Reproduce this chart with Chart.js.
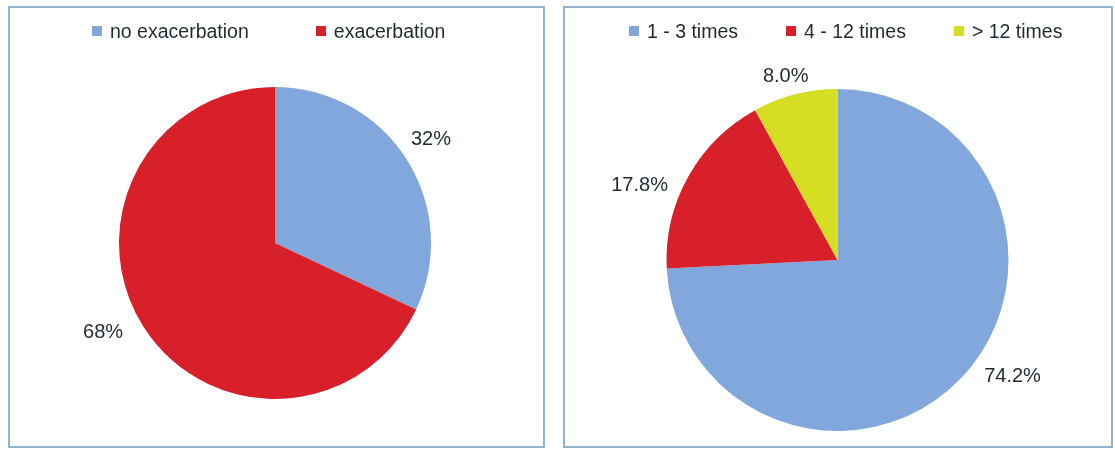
<!DOCTYPE html>
<html>
<head>
<meta charset="utf-8">
<script src="https://cdn.jsdelivr.net/npm/chart.js@4/dist/chart.umd.min.js"></script>
<style>
  html, body { margin: 0; padding: 0; background: #ffffff; }
  body { width: 1115px; height: 449px; position: relative; overflow: hidden; font-family: "Liberation Sans", Arial, sans-serif; }
  .panel { position: absolute; box-sizing: border-box; border: 2px solid #93b4cc; pointer-events: none; }
  canvas.c { position: absolute; }
  .legend { position: absolute; display: flex; align-items: center; height: 20px; color: #1f2a30; font-size: 19.5px; line-height: 20px; white-space: nowrap; }
  .legend .item { display: flex; align-items: center; }
  .legend .box { width: 10px; height: 10px; margin-right: 8px; }
</style>
</head>
<body>
<canvas id="left" class="c" width="537" height="442" style="left:8px;top:6px;"></canvas>
<canvas id="right" class="c" width="550" height="442" style="left:563px;top:6px;"></canvas>
<div class="panel" style="left:8px;top:6px;width:537px;height:442px;"></div>
<div class="panel" style="left:563px;top:6px;width:550px;height:442px;"></div>
<div id="legendLeft" class="legend" style="left:92px;top:21px;"></div>
<div id="legendRight" class="legend" style="left:629px;top:21px;"></div>
<script>
// ---- data ----
const leftCategories = ['no exacerbation', 'exacerbation'];
const leftValues = [32, 68];
const leftLabels = ['32%', '68%'];

const rightCategories = ['1 - 3 times', '4 - 12 times', '> 12 times'];
const rightValues = [74.2, 17.8, 8.0];
const rightLabels = ['74.2%', '17.8%', '8.0%'];

const leftColors = ['#82a7dc', '#d8202b'];
const rightColors = ['#82a7dc', '#d8202b', '#d5de22'];

// ---- html legends ----
function buildLegend(id, cats, colors, gap) {
  const el = document.getElementById(id);
  el.style.gap = gap + 'px';
  cats.forEach((c, i) => {
    const item = document.createElement('div');
    item.className = 'item';
    const box = document.createElement('span');
    box.className = 'box';
    box.style.background = colors[i];
    const t = document.createElement('span');
    t.textContent = c;
    item.appendChild(box);
    item.appendChild(t);
    el.appendChild(item);
  });
}
buildLegend('legendLeft', leftCategories, leftColors, 67);
buildLegend('legendRight', rightCategories, rightColors, 48);

// ---- outside labels plugin ----
const outsideLabels = {
  id: 'outsideLabels',
  afterDatasetsDraw(chart, args, opts) {
    const ctx = chart.ctx;
    const meta = chart.getDatasetMeta(0);
    const texts = opts.texts || [];
    const nudges = opts.nudges || [];
    ctx.save();
    ctx.font = '20px "Liberation Sans", Arial, sans-serif';
    ctx.fillStyle = '#1f2a30';
    ctx.textAlign = 'center';
    ctx.textBaseline = 'middle';
    const h = 20, g = opts.gap || 10;
    meta.data.forEach((arc, i) => {
      const p = arc.getProps(['x', 'y', 'startAngle', 'endAngle', 'outerRadius'], true);
      const mid = (p.startAngle + p.endAngle) / 2;
      const ux = Math.cos(mid), uy = Math.sin(mid);
      const w = ctx.measureText(texts[i]).width;
      const half = Math.abs(ux) * w / 2 + Math.abs(uy) * h / 2;
      const d = p.outerRadius + g + half;
      const n = nudges[i] || [0, 0];
      ctx.fillText(texts[i], p.x + ux * d + n[0], p.y + uy * d + n[1]);
    });
    ctx.restore();
  }
};

function makePie(id, cats, values, colors, texts, nudges, radius, padding) {
  new Chart(document.getElementById(id), {
    type: 'pie',
    data: {
      labels: cats,
      datasets: [{ data: values, backgroundColor: colors, borderWidth: 0 }]
    },
    options: {
      responsive: false,
      animation: false,
      radius: radius,
      layout: { padding: padding },
      plugins: {
        legend: { display: false },
        tooltip: { enabled: false },
        outsideLabels: { texts: texts, nudges: nudges, gap: 10 }
      }
    },
    plugins: [outsideLabels]
  });
}

makePie('left', leftCategories, leftValues, leftColors, leftLabels,
  [[-3, -3], [-13, -11]], 156, { top: 32, left: 0, right: 3, bottom: 0 });
makePie('right', rightCategories, rightValues, rightColors, rightLabels,
  [[24, -27], [-14, 28], [-3, 7]], 171, { top: 66, left: 0, right: 1, bottom: 0 });
</script>
</body>
</html>
